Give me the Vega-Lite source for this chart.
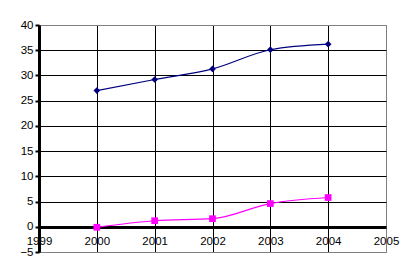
{
  "$schema": "https://vega.github.io/schema/vega-lite/v6.json",
  "width": 347,
  "height": 227,
  "autosize": {"type": "none"},
  "padding": {"left": 39, "top": 25, "right": 31, "bottom": 26},
  "background": "white",
  "config": {
    "view": {"stroke": "#808080", "strokeWidth": 1},
    "font": "Liberation Sans"
  },
  "data": {
    "values": [
      {"year": 2000, "value": 27.0, "series": "A"},
      {"year": 2001, "value": 29.2, "series": "A"},
      {"year": 2002, "value": 31.3, "series": "A"},
      {"year": 2003, "value": 35.1, "series": "A"},
      {"year": 2004, "value": 36.2, "series": "A"},
      {"year": 2000, "value": -0.1, "series": "B"},
      {"year": 2001, "value": 1.2, "series": "B"},
      {"year": 2002, "value": 1.6, "series": "B"},
      {"year": 2003, "value": 4.6, "series": "B"},
      {"year": 2004, "value": 5.8, "series": "B"}
    ]
  },
  "encoding": {
    "x": {
      "field": "year",
      "type": "quantitative",
      "scale": {"domain": [1999, 2005], "nice": false, "zero": false},
      "axis": {
        "values": [1999, 2000, 2001, 2002, 2003, 2004, 2005],
        "format": "d",
        "grid": true,
        "gridColor": {"condition": {"test": "datum.value == 2005", "value": "#808080"}, "value": "black"},
        "gridOpacity": 1,
        "domain": false,
        "ticks": false,
        "offset": -25,
        "labelPadding": 8,
        "labelFontSize": 11.5,
        "labelColor": "black",
        "labelFlush": false,
        "labelOverlap": false,
        "title": null
      }
    },
    "y": {
      "field": "value",
      "type": "quantitative",
      "scale": {"domain": [-5, 40], "nice": false, "zero": false},
      "axis": {
        "values": [-5, 0, 5, 10, 15, 20, 25, 30, 35, 40],
        "grid": true,
        "gridColor": {"condition": {"test": "datum.value == 40 || datum.value == -5", "value": "#808080"}, "value": "black"},
        "gridWidth": {"condition": {"test": "datum.value == 0", "value": 3}, "value": 1},
        "gridOpacity": 1,
        "domainColor": "black",
        "domainWidth": 3,
        "tickColor": "black",
        "tickWidth": 2,
        "tickSize": 4,
        "labelPadding": 2,
        "labelFontSize": 11.5,
        "labelColor": "black",
        "labelFlush": false,
        "labelOverlap": false,
        "title": null
      }
    },
    "color": {
      "field": "series",
      "type": "nominal",
      "scale": {"domain": ["A", "B"], "range": ["#000080", "#FF00FF"]},
      "legend": null
    }
  },
  "layer": [
    {
      "mark": {"type": "line", "interpolate": "monotone", "strokeWidth": 1.2}
    },
    {
      "mark": {"type": "point", "filled": true, "opacity": 1, "size": 45},
      "encoding": {
        "shape": {
          "field": "series",
          "type": "nominal",
          "scale": {"domain": ["A", "B"], "range": ["diamond", "square"]},
          "legend": null
        }
      }
    }
  ]
}
